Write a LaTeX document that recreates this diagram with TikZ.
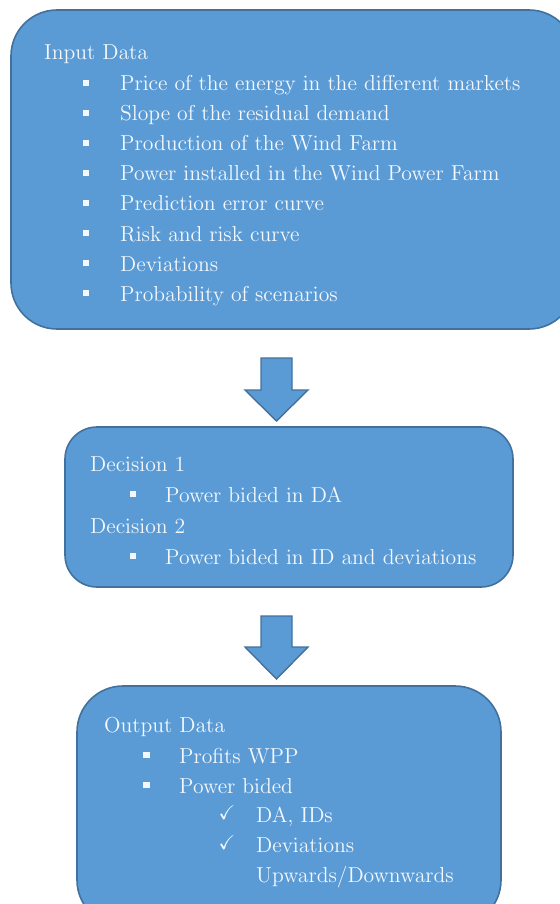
\documentclass[tikz,border=0pt]{standalone}
\usepackage{amssymb}
\definecolor{boxfill}{HTML}{5B9BD5}
\definecolor{boxline}{HTML}{41719C}
\definecolor{boxtext}{HTML}{F4F8FC}
% body text: Computer Modern at its 12pt design size, enlarged
\font\bodyfont=cmr12 at 21.65pt
\begin{document}
\begin{tikzpicture}[x=1pt,y=-1pt,
  panel/.style={draw=boxline, fill=boxfill, line width=1.6pt, inner sep=0pt},
  blockarrow/.style={draw=boxline, fill=boxfill, line width=1.4pt, line join=miter},
  txt/.style={anchor=base west, inner sep=0pt, text=boxtext, font=\bodyfont},
  sq/.style={fill=boxtext, minimum size=6.5pt, inner sep=0pt, anchor=center},
  tick/.style={anchor=base west, inner sep=0pt, text=boxtext, font=\fontsize{20}{24}\selectfont}]
\useasboundingbox (0,0) rectangle (559,904);

% the three panels
\node[panel, rounded corners=46pt, minimum width=564pt, minimum height=319pt] (input) at (293,169.5) {};
\node[panel, rounded corners=32pt, minimum width=448pt, minimum height=160pt] (decision) at (289,507) {};
\node[panel, rounded corners=46pt, minimum width=424pt, minimum height=240pt] (output) at (289,806) {};

% block arrows between the panels
\coordinate (a1) at (276.5,358);
\draw[blockarrow] (a1) ++(-15.5,0) -- ++(31,0) -- ++(0,32) -- ++(16,0)
  -- ++(-31.5,31) -- ++(-31.5,-31) -- ++(16,0) -- cycle;
\coordinate (a2) at (276.5,616);
\draw[blockarrow] (a2) ++(-15.5,0) -- ++(31,0) -- ++(0,31) -- ++(16,0)
  -- ++(-31.5,32) -- ++(-31.5,-32) -- ++(16,0) -- cycle;

% input data
\node[txt] (inTitle) at (44,60) {Input Data};
\foreach \t [count=\i from 0] in {
  Price of the energy in the different markets,
  Slope of the residual demand,
  Production of the Wind Farm,
  Power installed in the Wind Power Farm,
  Prediction error curve,
  Risk and risk curve,
  Deviations,
  Probability of scenarios} {
  \node[sq] (inB\i) at (86,83+30*\i) {};
  \node[txt] (inT\i) at (120,91+30*\i) {\t};
}

% decisions
\node[txt] (dec1) at (90,471.5) {Decision 1};
\node[sq] (decB1) at (133,494) {};
\node[txt] (decT1) at (165,502) {Power bided in DA};
\node[txt] (dec2) at (90,533.5) {Decision 2};
\node[sq] (decB2) at (133,556) {};
\node[txt] (decT2) at (165,564) {Power bided in ID and deviations};

% output data
\node[txt] (outTitle) at (104,732) {Output Data};
\node[sq] (outB1) at (146.5,755) {};
\node[txt] (outT1) at (179,763) {Profits WPP};
\node[sq] (outB2) at (146.5,785) {};
\node[txt] (outT2) at (179,793) {Power bided};
\node[tick] (outC1) at (218.5,819) {$\checkmark$};
\node[txt] (outS1) at (256,822) {DA, IDs};
\node[tick] (outC2) at (218.5,849) {$\checkmark$};
\node[txt] (outS2) at (256,852) {Deviations};
\node[txt] (outS3) at (256,882) {Upwards/Downwards};
\end{tikzpicture}
\end{document}
